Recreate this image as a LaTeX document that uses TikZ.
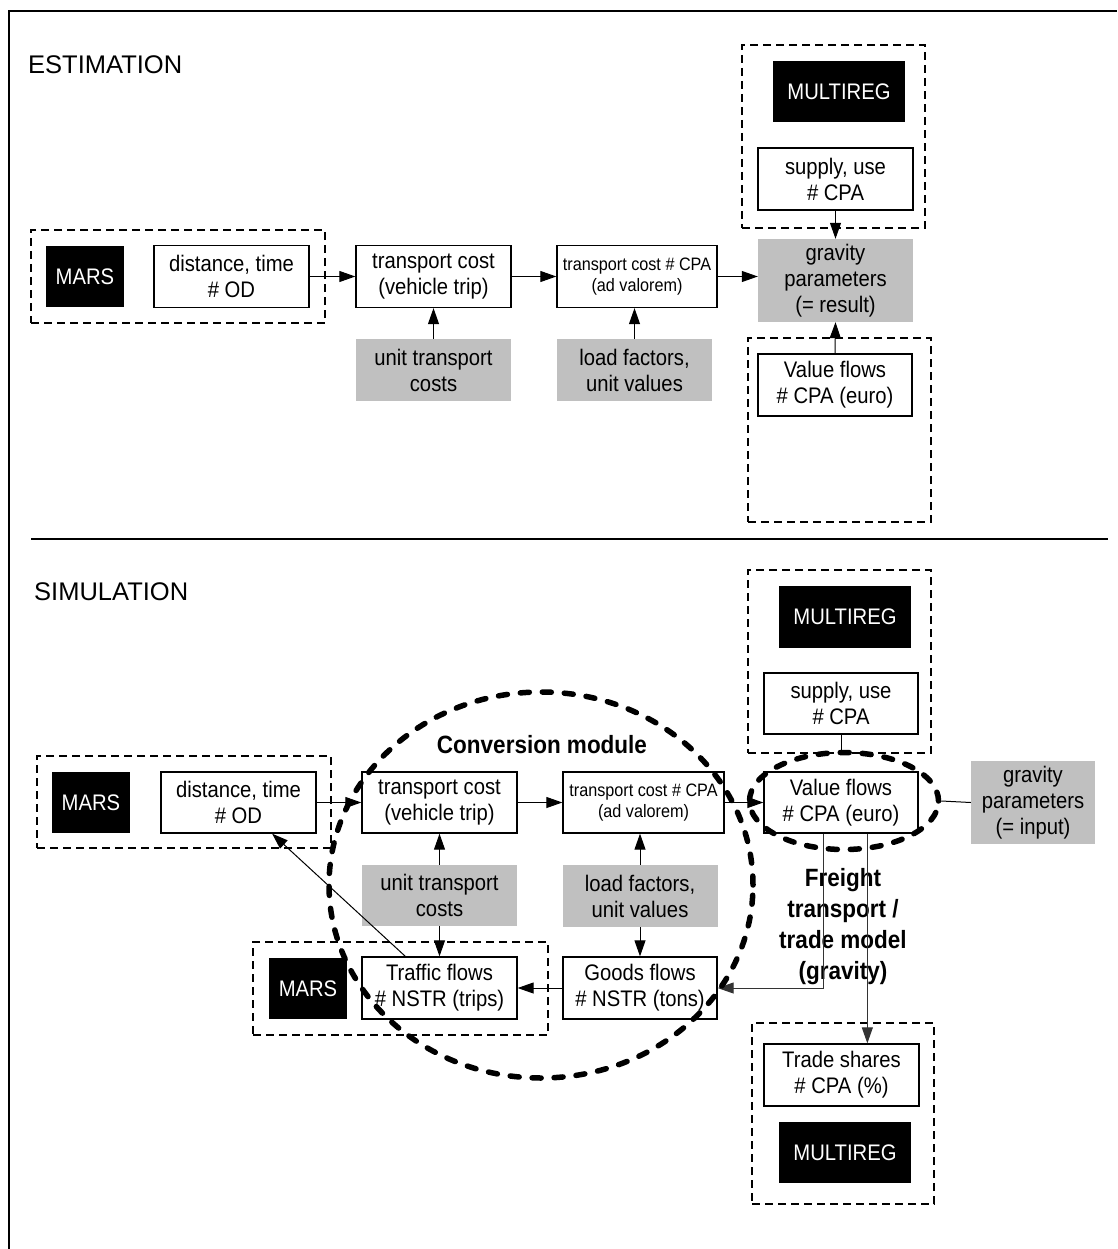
\documentclass[tikz,border=0pt]{standalone}
\usepackage{fontspec}
\setmainfont{Liberation Sans}[FakeStretch=0.9]
\newfontfamily\titlefont{Liberation Sans}
\usetikzlibrary{arrows.meta,shapes.geometric,calc}
\definecolor{panelgray}{HTML}{C0C0C0}
\begin{document}
\begin{tikzpicture}[x=1pt,y=-1pt,
  boxfont/.style={font=\fontsize{22.5}{26}\selectfont},
  smallfont/.style={font=\fontsize{18}{21}\selectfont},
  plainbox/.style={draw, line width=1.3pt, fill=white, inner sep=0pt, align=center,
    minimum width=155pt, minimum height=62pt, boxfont},
  graybox/.style={fill=panelgray, inner sep=0pt, align=center,
    minimum width=155pt, minimum height=62pt, boxfont},
  modelbox/.style={fill=black, text=white, inner sep=0pt, align=center,
    minimum width=78pt, minimum height=61pt, boxfont},
  groupbox/.style={draw, line width=1.3pt, dash pattern=on 8pt off 5pt, inner sep=0pt},
  bigdash/.style={draw, line width=5.5pt, line cap=round, dash pattern=on 9pt off 13pt},
  flow/.style={line width=1pt, -{Triangle[length=16pt,width=11pt]}},
  link/.style={line width=1pt},
  titletext/.style={font=\titlefont\fontsize{25.5}{29}\selectfont, anchor=west, inner sep=0pt},
  boldtext/.style={font=\bfseries\fontsize{25}{31}\selectfont, align=center, inner sep=0pt}
]
\useasboundingbox (0,0) rectangle (1117,1249);

% frame and section divider
\draw[line width=1.2pt] (9,1249) -- (9,11) -- (1117,11);
\draw[line width=1.2pt] (31,539) -- (1108,539);

% ---------------- ESTIMATION ----------------
\node[titletext] (est) at (28,65) {ESTIMATION};

\node[groupbox, minimum width=294pt, minimum height=93pt] (marsAgrp) at (178,276.5) {};
\node[groupbox, minimum width=183pt, minimum height=183pt] (mrgAgrp) at (833.5,136.5) {};
\node[groupbox, minimum width=183pt, minimum height=184pt] (valAgrp) at (839.5,430) {};

\node[modelbox] (marsA) at (85,276.5) {MARS};
\node[plainbox] (distA) at (231.5,276.5) {distance, time\\\# OD};
\node[plainbox] (tcA) at (433.5,276.5) {transport cost\\(vehicle trip)};
\node[plainbox, minimum width=160pt, smallfont] (tccA) at (637,276.5) {transport cost \# CPA\\(ad valorem)};
\node[graybox] (unitA) at (433.5,370) {unit transport\\costs};
\node[graybox] (lfA) at (634.5,370) {load factors,\\unit values};
\node[graybox, minimum height=83pt] (gravA) at (835.5,280.5) {gravity\\parameters\\(= result)};
\node[modelbox, minimum width=132pt] (mrgA) at (839,91.5) {MULTIREG};
\node[plainbox] (supA) at (835.5,179) {supply, use\\\# CPA};
\node[plainbox, minimum width=154pt] (valA) at (835,385) {Value flows\\\# CPA (euro)};

\draw[flow] (distA.east) -- (tcA.west);
\draw[flow] (tcA.east) -- (tccA.west);
\draw[flow] (tccA.east) -- (tccA.east -| gravA.west);
\draw[flow] (unitA.north) -- (tcA.south);
\draw[flow] (lfA.north) -- (lfA.north |- tccA.south);
\draw[flow] (supA.south) -- (gravA.north);
\draw[flow] (valA.north) -- (gravA.south);

% ---------------- SIMULATION ----------------
\node[titletext] (sim) at (34,592) {SIMULATION};

\node[groupbox, minimum width=294pt, minimum height=92pt] (marsBgrp) at (184,802) {};
\node[groupbox, minimum width=183pt, minimum height=183pt] (mrgBgrp) at (839.5,661.5) {};
\node[groupbox, minimum width=295pt, minimum height=93pt] (marsCgrp) at (400.5,988.5) {};
\node[groupbox, minimum width=182pt, minimum height=181pt] (tradegrp) at (843,1113.5) {};

\node[modelbox] (marsB) at (91,802.5) {MARS};
\node[plainbox, minimum height=61pt] (distB) at (238.5,802.5) {distance, time\\\# OD};
\node[plainbox, minimum height=61pt] (tcB) at (439.5,802.5) {transport cost\\(vehicle trip)};
\node[plainbox, minimum height=61pt, minimum width=161pt, smallfont] (tccB) at (643.5,802.5) {transport cost \# CPA\\(ad valorem)};
\node[plainbox, minimum height=61pt, minimum width=154pt] (valB) at (841,802.5) {Value flows\\\# CPA (euro)};
\node[graybox, minimum width=124pt, minimum height=83pt] (gravB) at (1033,802.5) {gravity\\parameters\\(= input)};
\node[modelbox, minimum width=132pt, minimum height=62pt] (mrgB) at (845,617) {MULTIREG};
\node[plainbox, minimum height=61pt, minimum width=154pt] (supB) at (841,703.5) {supply, use\\\# CPA};
\node[graybox, minimum height=61pt] (unitB) at (439.5,895.5) {unit transport\\costs};
\node[graybox] (lfB) at (640,896) {load factors,\\unit values};
\node[modelbox] (marsC) at (308,988.5) {MARS};
\node[plainbox] (traffic) at (439.5,988) {Traffic flows\\\# NSTR (trips)};
\node[plainbox, minimum width=154pt] (goods) at (640,988) {Goods flows\\\# NSTR (tons)};
\node[plainbox] (trade) at (841.5,1075) {Trade shares\\\# CPA (\%)};
\node[modelbox, minimum width=132pt] (mrgC) at (845,1152.5) {MULTIREG};

\node[boldtext] (freight) at (843,927) {Freight\\transport /\\trade model\\(gravity)};

\draw[flow] (distB.east) -- (tcB.west);
\draw[flow] (tcB.east) -- (tccB.west);
\draw[flow] (tccB.east) -- (tccB.east -| valB.west);
\draw[flow] (unitB.north) -- (tcB.south);
\draw[flow] (unitB.south) -- (traffic.north);
\draw[flow] (lfB.north) -- (lfB.north |- tccB.south);
\draw[flow] (lfB.south) -- (goods.north);
\draw[flow] (goods.west) -- (traffic.east);
\draw[flow] ($(traffic.north west)+(44,0)$) -- ($(distB.south west)!0.715!(distB.south east)$);

\coordinate (vA) at ($(valB.south west)+(60,0)$);
\coordinate (vB) at ($(valB.south west)+(104,0)$);
\draw[flow, draw=black!80] (vA) |- (goods.east);
\draw[flow, draw=black!80] (vB) -- (vB |- trade.north);

% conversion module and value-flow highlight
\node[ellipse, bigdash, minimum width=424pt, minimum height=386pt, inner sep=0pt] (conv) at (541,885) {};
\node[ellipse, bigdash, minimum width=189pt, minimum height=97pt, inner sep=0pt] (vell) at (844,801) {};
\node[boldtext] (convlabel) at (542,745) {Conversion module};

\draw[link] (supB.south) -- (supB.south |- vell.north);
\draw[link] (vell.east) -- (gravB.west);
\end{tikzpicture}
\end{document}
